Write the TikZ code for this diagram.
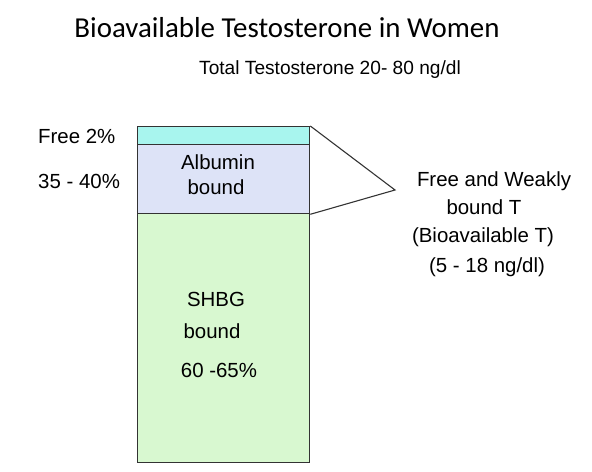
\documentclass[tikz,border=0pt]{standalone}
\usepackage{fontspec}
\setmainfont{Liberation Sans}
\newfontfamily\titlefont{Carlito}
\usepackage{xcolor}
\usepackage{tikz}
\usetikzlibrary{positioning}

\definecolor{freeclr}{HTML}{A8F5EE}
\definecolor{albclr}{HTML}{DDE3F7}
\definecolor{shbgclr}{HTML}{D8F8D0}
\definecolor{edgeclr}{HTML}{333333}

\tikzset{
  band/.style={draw=edgeclr, line width=1.3pt, minimum width=172bp, inner sep=0pt,
    anchor=north west},
  lbl/.style={anchor=base, inner sep=0pt, font=\fontsize{20.5}{24}\selectfont}
}

\begin{document}
\begin{tikzpicture}[x=1bp, y=-1bp]
  \useasboundingbox (0,0) rectangle (592,472);
  %% title
  \node[anchor=base, inner sep=0pt, font=\titlefont\fontsize{29}{32}\selectfont]
    (title) at (287,38) {Bioavailable Testosterone in Women};
  \node[lbl, font=\fontsize{19.2}{22}\selectfont] (total) at (330,75)
    {Total Testosterone 20- 80 ng/dl};
  %% the bar
  \node[band, fill=shbgclr, minimum height=249bp] (shbg) at (137,213) {};
  \node[band, fill=albclr, minimum height=69bp] (alb) at (137,144) {};
  \node[band, fill=freeclr, minimum height=18bp] (free) at (137,126) {};
  %% labels on the left
  \node[lbl, anchor=base west] (freelbl) at (38,144) {Free 2\%};
  \node[lbl, anchor=base west] (alblbl) at (38,189) {35 - 40\%};
  %% labels inside
  \node[lbl] (alb1) at (218,170) {Albumin};
  \node[lbl] (alb2) at (216,195) {bound};
  \node[lbl] (shbg1) at (216,306) {SHBG};
  \node[lbl] (shbg2) at (212,338) {bound};
  \node[lbl] (shbg3) at (219,377) {60 -65\%};
  %% bioavailable bracket
  \coordinate (apex) at (395,190);
  \draw[edgeclr, line width=1.1pt] (free.north east) -- (apex) -- (alb.south east);
  \node[lbl] (bio1) at (494,187) {Free and Weakly};
  \node[lbl] (bio2) at (484,215) {bound T};
  \node[lbl] (bio3) at (483,243) {(Bioavailable T)};
  \node[lbl] (bio4) at (487,273) {(5 - 18 ng/dl)};
\end{tikzpicture}
\end{document}
